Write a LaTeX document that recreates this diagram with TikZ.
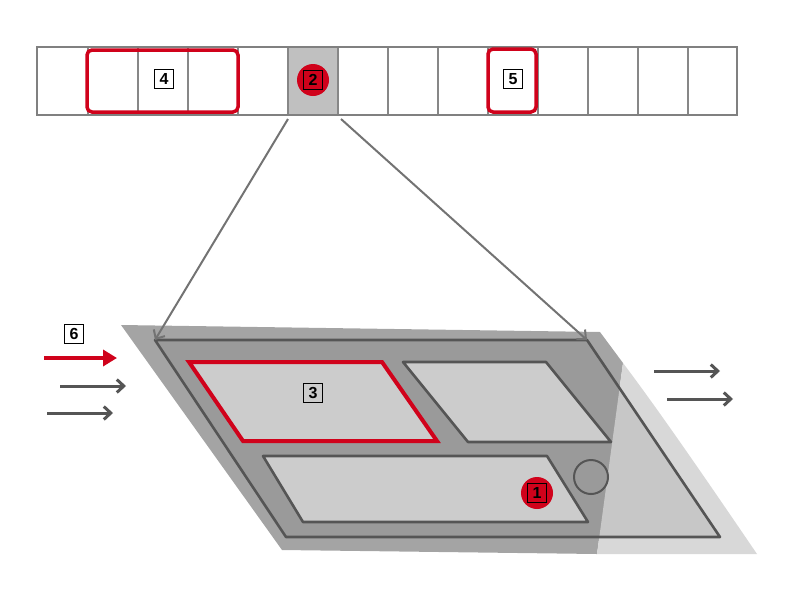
\documentclass[tikz,border=0pt]{standalone}
\usepackage{fontspec}
\setmainfont{Liberation Sans}
\usetikzlibrary{arrows.meta}
\definecolor{cred}{RGB}{208,2,27}
\definecolor{stripgray}{RGB}{128,128,128}
\definecolor{divgray}{RGB}{135,135,135}
\definecolor{cellgray}{RGB}{192,192,192}
\definecolor{bandgray}{RGB}{164,164,164}
\definecolor{framegray}{RGB}{154,154,154}
\definecolor{panelgray}{RGB}{204,204,204}
\definecolor{lightgray1}{RGB}{216,216,216}
\definecolor{lightgray2}{RGB}{199,199,199}
\definecolor{edgegray}{RGB}{85,85,85}
\definecolor{conngray}{RGB}{115,115,115}
\begin{document}
\begin{tikzpicture}[x=1pt,y=-1pt,
  numbox/.style={draw=black,line width=1pt,minimum size=19pt,inner sep=0pt,font=\fontsize{16}{16}\selectfont\bfseries},
  reddot/.style={circle,fill=cred,minimum size=32pt,inner sep=0pt},
  redframe/.style={draw=cred,line width=3.5pt,rounded corners=5pt},
  stripline/.style={draw=stripgray,line width=2.8pt},
  divline/.style={draw=divgray,line width=2pt},
  conn/.style={draw=conngray,line width=2pt,-{Straight Barb[length=7pt,width=13pt]}},
  flowarrow/.style={draw=edgegray,line width=3pt,-{Straight Barb[length=7pt,width=13pt]}},
  redarrow/.style={draw=cred,line width=4.5pt,-{Triangle[length=14pt,width=16pt]}},
  edge/.style={draw=edgegray,line width=2.6pt,line join=round},
]
\useasboundingbox (0,0) rectangle (800,600);
% ---------- top strip ----------
\fill[cellgray] (288,47) rectangle (338,115);
\foreach \xx in {88,138,188,238,288,338,388,438,488,538,588,638,688}
  \draw[divline] (\xx,47) -- (\xx,115);
\draw[stripline] (37,47) rectangle (737,115);
\draw[redframe] (87,50) rectangle (238,112);
\draw[redframe] (488,49) rectangle (536,112);
\node[numbox] (n4) at (164,79) {4};
\node[numbox] (n5) at (513,79) {5};
\node[reddot] (d2) at (313,80) {};
\node[numbox] (n2) at (313,80) {2};
% ---------- bottom shapes ----------
\fill[bandgray] (121,325) -- (600,332) -- (623,363) -- (597,554) -- (282,550) -- cycle;
\fill[lightgray1] (623,363) .. controls (660,412) and (710,485) .. (757,554) -- (597,554) -- cycle;
\coordinate (fTL) at (155,340);
\coordinate (fTR) at (587,340);
\coordinate (fBR) at (720,537);
\coordinate (fBL) at (286,537);
\fill[framegray] (fTL) -- (fTR) -- (fBR) -- (fBL) -- cycle;
\begin{scope}
  \clip (fTL) -- (fTR) -- (fBR) -- (fBL) -- cycle;
  \fill[lightgray2] (623,363) -- (800,363) -- (800,560) -- (597,554) -- cycle;
\end{scope}
\draw[edge] (fTL) -- (fTR) -- (fBR) -- (fBL) -- cycle;
% panels
\draw[edge,fill=panelgray] (403,362) -- (546,362) -- (611,442) -- (468,442) -- cycle;
\draw[edge,fill=panelgray] (263,456) -- (547,456) -- (588,522) -- (303,522) -- cycle;
\draw[draw=cred,line width=4pt,line join=miter,fill=panelgray] (189,362) -- (382,362) -- (437,441) -- (243,441) -- cycle;
\node[numbox] (n3) at (313,393) {3};
\node[circle,draw=edgegray,line width=2pt,fill=framegray,minimum size=34pt,inner sep=0pt] (knob) at (591,477) {};
\node[reddot] (d1) at (537,493) {};
\node[numbox] (n1) at (537,493) {1};
% ---------- connectors ----------
\coordinate (c2l) at (288,119);
\coordinate (c2r) at (341,119);
\draw[conn] (c2l) -- (fTL);
\draw[conn] (c2r) -- (fTR);
% ---------- flow arrows ----------
\node[numbox] (n6) at (74,334) {6};
\coordinate (r6s) at (44,358);
\coordinate (r6e) at (117,358);
\draw[redarrow] (r6s) -- (r6e);
\coordinate (a1s) at (60,386);  \coordinate (a1e) at (126,386);
\coordinate (a2s) at (47,413);  \coordinate (a2e) at (113,413);
\coordinate (a3s) at (654,371); \coordinate (a3e) at (720,371);
\coordinate (a4s) at (667,399); \coordinate (a4e) at (733,399);
\draw[flowarrow] (a1s) -- (a1e);
\draw[flowarrow] (a2s) -- (a2e);
\draw[flowarrow] (a3s) -- (a3e);
\draw[flowarrow] (a4s) -- (a4e);
\end{tikzpicture}
\end{document}
